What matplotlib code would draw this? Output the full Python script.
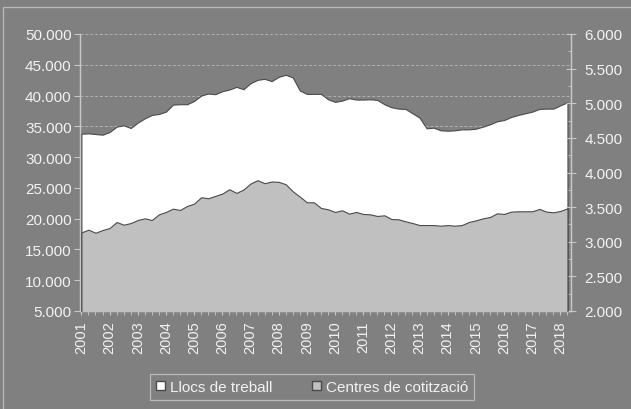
import matplotlib.pyplot as plt
import numpy as np
from matplotlib.patches import Patch, Rectangle
from matplotlib.ticker import FuncFormatter, MultipleLocator

# quarterly data, 2001 Q1 - 2018 Q2
years = [str(y) for y in range(2001, 2019)]

llocs = [33800, 33860, 33750, 33640, 34080, 34950, 35160, 34730, 35600, 36300,
         36850, 37010, 37390, 38530, 38590, 38590, 39130, 40000, 40330, 40220,
         40710, 40980, 41410, 41030, 42010, 42550, 42720, 42340, 43040, 43370,
         42940, 40820, 40270, 40270, 40270, 39400, 38970, 39180, 39570, 39350,
         39350, 39400, 39290, 38590, 38100, 37880, 37830, 37120, 36410, 34670,
         34780, 34350, 34290, 34350, 34510, 34510, 34620, 34950, 35330, 35820,
         36030, 36520, 36850, 37120, 37390, 37830, 37880, 37880, 38420, 38910]

centres = [3135, 3174, 3130, 3169, 3198, 3285, 3246, 3270, 3314, 3338,
           3314, 3396, 3430, 3478, 3459, 3517, 3551, 3643, 3628, 3662,
           3696, 3758, 3705, 3754, 3841, 3889, 3845, 3870, 3865, 3831,
           3729, 3652, 3570, 3570, 3488, 3469, 3430, 3454, 3406, 3430,
           3401, 3396, 3372, 3382, 3328, 3324, 3295, 3270, 3241, 3241,
           3241, 3232, 3241, 3232, 3241, 3285, 3309, 3338, 3357, 3411,
           3401, 3435, 3440, 3440, 3440, 3474, 3435, 3425, 3445, 3483]

bg = '#808080'
txt = '#f2f2f2'
edge = '#4a4a4a'
plt.rcParams['font.family'] = ['Liberation Sans', 'DejaVu Sans']

x = np.arange(len(llocs))

fig = plt.figure(figsize=(6.31, 4.10), dpi=100, facecolor=bg)
ax = fig.add_axes([80 / 631, 1 - 312 / 410, 491 / 631, 277 / 410])
ax.set_facecolor(bg)
ax2 = ax.twinx()
ax2.patch.set_visible(False)

ax.fill_between(x, 0, llocs, facecolor='white', edgecolor=edge, linewidth=0.8, zorder=3)
ax2.fill_between(x, 0, centres, facecolor='#c0c0c0', edgecolor=edge, linewidth=0.8, zorder=3)

ax.set_ylim(5000, 50000)
ax2.set_ylim(2000, 6000)
ax.set_xlim(-0.2, len(x) - 0.5)

thousands = FuncFormatter(lambda v, p: f'{int(v):,}'.replace(',', '.'))
ax.yaxis.set_major_locator(MultipleLocator(5000))
ax.yaxis.set_major_formatter(thousands)
ax2.yaxis.set_major_locator(MultipleLocator(500))
ax2.yaxis.set_minor_locator(MultipleLocator(250))
ax2.yaxis.set_major_formatter(thousands)

ax.set_axisbelow(True)
ax.yaxis.grid(True, color='#b0b0b0', linestyle=(0, (3, 2)), linewidth=0.7)

ax.set_xticks(x[::4])
ax.set_xticklabels(years, rotation=90)
ax.set_xticks(x, minor=True)

for a in (ax, ax2):
    for s in a.spines.values():
        s.set_color('#c8c8c8')
        s.set_linewidth(0.9)
    a.spines['top'].set_visible(False)

ax.tick_params(axis='y', colors='#c8c8c8', labelcolor=txt, labelsize=11, length=4, pad=2)
ax.tick_params(axis='x', which='both', colors='#c8c8c8', labelcolor=txt, labelsize=10.5, length=3, pad=4)
ax2.tick_params(axis='y', which='major', colors='#c8c8c8', labelcolor=txt, labelsize=11,
                direction='inout', length=7, pad=6)
ax2.tick_params(axis='y', which='minor', colors='#c8c8c8', direction='in', length=2)

handles = [Patch(facecolor='white', edgecolor=edge, label='Llocs de treball'),
           Patch(facecolor='#c0c0c0', edgecolor=edge, label='Centres de cotització')]
leg = fig.legend(handles=handles, loc='center', bbox_to_anchor=(312 / 631, 1 - 388 / 410),
                 ncol=2, frameon=True, fancybox=False, fontsize=11, handlelength=0.6,
                 handleheight=0.6, handletextpad=0.3, columnspacing=2.6,
                 borderpad=0.4, borderaxespad=0.0, labelcolor=txt)
leg.get_frame().set_facecolor(bg)
leg.get_frame().set_edgecolor('#c8c8c8')
leg.get_frame().set_linewidth(0.9)

# outer chart frame
fig.patches.append(Rectangle((3 / 631, -0.1), 1.2, 1 - 8 / 410 + 0.1, transform=fig.transFigure,
                             fill=False, edgecolor='#b8b8b8', linewidth=1.0))

fig.savefig('out.png', dpi=100, facecolor=bg)
